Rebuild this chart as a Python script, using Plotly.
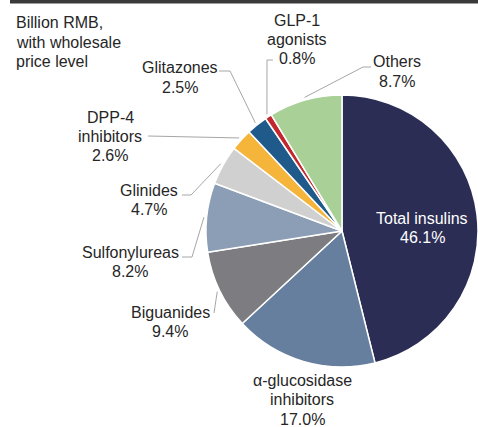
import math
import plotly.graph_objects as go

# ── Data ──────────────────────────────────────────────
categories = ["Total insulins", "α-glucosidase inhibitors", "Biguanides",
              "Sulfonylureas", "Glinides", "DPP-4 inhibitors", "Glitazones",
              "GLP-1 agonists", "Others"]
shares = [46.1, 17.0, 9.4, 8.2, 4.7, 2.6, 2.5, 0.8, 8.7]
label_lines = [["Total insulins"], ["α-glucosidase", "inhibitors"], ["Biguanides"],
               ["Sulfonylureas"], ["Glinides"], ["DPP-4", "inhibitors"], ["Glitazones"],
               ["GLP-1", "agonists"], ["Others"]]
note_lines = ["Billion RMB,", "with wholesale", "price level"]

colors = ["#2c2d55", "#667f9e", "#7d7c81", "#8c9eb5", "#d0d0d0",
          "#f5b43a", "#1f5a8b", "#c1272d", "#a9d096"]

# ── Layout (pixels) ───────────────────────────────────
W, H = 478, 427
CX, CY, R = 342, 231, 136
LINE_H = 19.5
FONT = "Liberation Sans, Arial, sans-serif"
TXT = "#262626"

# label centre x, first-line centre y
label_pos = [(422, 218), (302, 380), (170, 312), (130, 252), (149, 190),
             (110, 117), (180, 68), (297, 20), (397, 62)]
# leader line start + elbow points (None = no leader)
leaders = [None, None,
           [(214, 313)],
           [(182, 257), (192, 257)],
           [(182, 195), (191, 195)],
           [(148, 136)],
           [(219, 71), (230, 71)],
           [(273, 60), (267, 60)],
           [(371, 67), (363, 67)]]


def px(x):
    return x / W


def py(y):
    return 1 - y / H


fig = go.Figure(go.Pie(
    labels=categories, values=shares,
    sort=False, direction="clockwise", rotation=0,
    marker=dict(colors=colors, line=dict(color="white", width=1.5)),
    textinfo="none", hoverinfo="label+percent",
    domain=dict(x=[px(CX - R), px(CX + R)], y=[py(CY + R), py(CY - R)]),
    showlegend=False,
))

annotations = []
shapes = []


def add_lines(lines, x, y0, color=TXT, xanchor="center"):
    for k, t in enumerate(lines):
        annotations.append(dict(
            x=px(x), y=py(y0 + k * LINE_H), xref="paper", yref="paper",
            text=t, showarrow=False, xanchor=xanchor, yanchor="middle",
            font=dict(family=FONT, size=16, color=color)))


cum = 0.0
total = sum(shares)
for i, v in enumerate(shares):
    mid = (cum + v / 2) / total * 2 * math.pi
    cum += v
    lx, ly = label_pos[i]
    col = "white" if i == 0 else TXT
    add_lines(label_lines[i] + [f"{v:.1f}%"], lx, ly, color=col)
    if leaders[i]:
        pts = list(leaders[i]) + [(CX + 1.02 * R * math.sin(mid),
                                   CY - 1.02 * R * math.cos(mid))]
        path = "M " + " L ".join(f"{px(a)},{py(b)}" for a, b in pts)
        shapes.append(dict(type="path", path=path, xref="paper", yref="paper",
                           line=dict(color="#a6a6a6", width=1)))

add_lines(note_lines, 14, 23, xanchor="left")

# top rule
shapes.append(dict(type="rect", xref="paper", yref="paper",
                   x0=px(10), x1=1, y0=py(3.5), y1=1,
                   fillcolor="#3a3a3a", line=dict(width=0)))

fig.update_layout(
    width=W, height=H,
    margin=dict(l=0, r=0, t=0, b=0),
    paper_bgcolor="white", plot_bgcolor="white",
    annotations=annotations, shapes=shapes,
)

# page body has a default 8px margin; drop it so the figure sits at 0,0
fig.write_html("out.html", config={"displayModeBar": False},
               post_script="document.body.style.margin='0';")
